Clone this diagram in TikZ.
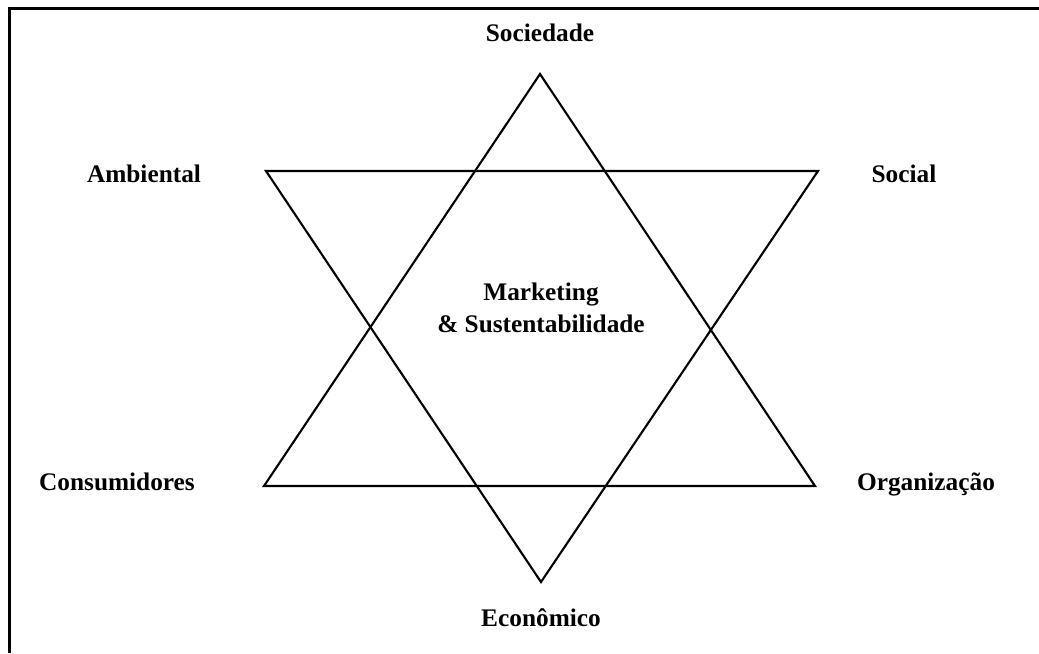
\documentclass[tikz,border=0pt]{standalone}
\usepackage{fontspec}
\setmainfont{Liberation Serif}

\tikzstyle{every node}=[text centered, font=\fontsize{18}{22.5}\selectfont\bfseries, inner sep=1pt]
\tikzstyle{star}=[line width=1.5pt, line join=miter]
\tikzstyle{label}=[anchor=base]

\begin{document}
\begin{tikzpicture}[x=0.025cm, y=-0.025cm]
  \useasboundingbox (0,0) rectangle (1039,653);
  % frame (cut off at right and bottom)
  \draw[line width=2.2pt] (9.5,653) -- (9.5,8.5) -- (1039,8.5);

  % upward triangle
  \coordinate (up-top) at (540,74);
  \coordinate (up-left) at (264,486);
  \coordinate (up-right) at (815,486);
  \draw[star] (up-top) -- (up-right) -- (up-left) -- cycle;

  % downward triangle
  \coordinate (dn-left) at (266,171);
  \coordinate (dn-right) at (818,171);
  \coordinate (dn-bot) at (541,582);
  \draw[star] (dn-left) -- (dn-right) -- (dn-bot) -- cycle;

  \node[label] (sociedade) at (540,41) {Sociedade};
  \node[label] (ambiental) at (144,182) {Ambiental};
  \node[label] (social) at (904,182) {Social};
  \node[label] (consumidores) at (117,490) {Consumidores};
  \node[label] (organizacao) at (926,490) {Organização};
  \node[label] (economico) at (541,626) {Econômico};
  \node[align=center] (centro) at (541,308) {Marketing\\\& Sustentabilidade};
\end{tikzpicture}
\end{document}
